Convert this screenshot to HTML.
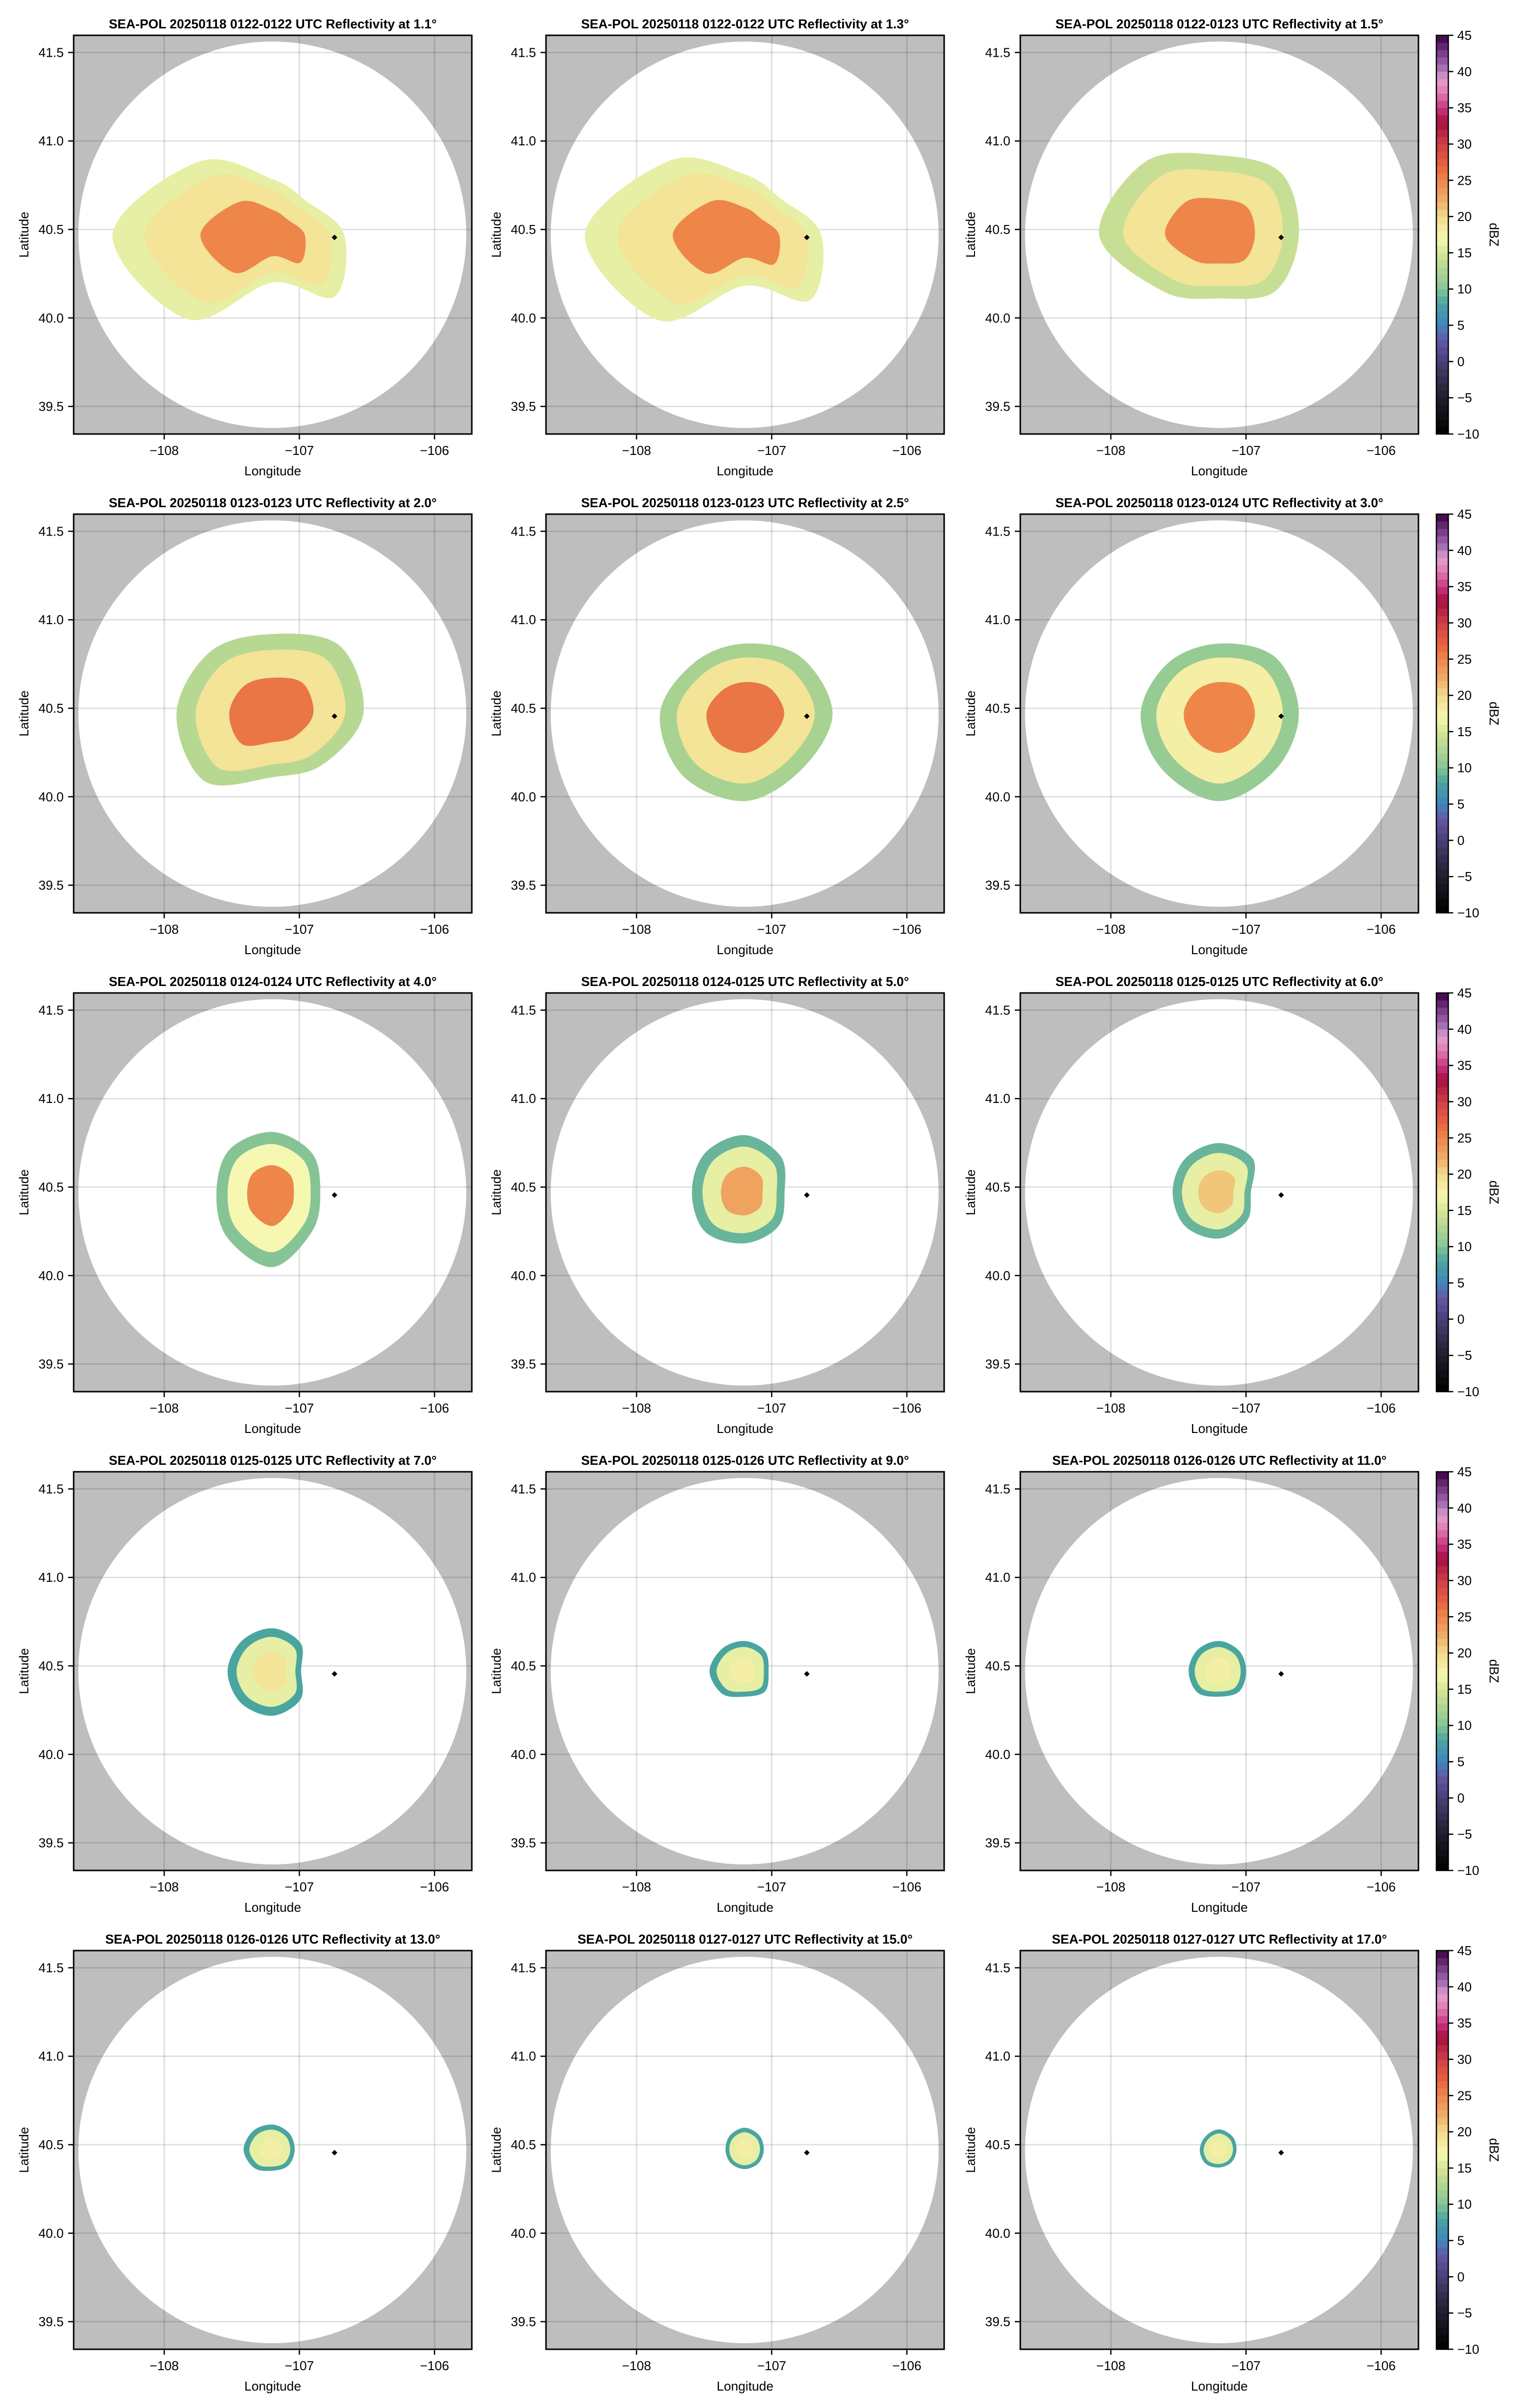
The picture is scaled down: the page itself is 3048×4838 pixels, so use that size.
<!DOCTYPE html>
<html><head><meta charset="utf-8"><style>
html,body{margin:0;padding:0;background:#fff;}
svg{display:block;font-family:"Liberation Sans",sans-serif;}
</style></head><body>
<svg id="fig" width="3048" height="4838" viewBox="0 0 3048 4838" xmlns="http://www.w3.org/2000/svg"></svg>
<script>
// ---- data ----
const elevations = [1.1,1.3,1.5,2.0,2.5,3.0,4.0,5.0,6.0,7.0,9.0,11.0,13.0,15.0,17.0];
const timeRanges = ["0122-0122","0122-0122","0122-0123","0123-0123","0123-0123","0123-0124","0124-0124","0124-0125","0125-0125","0125-0125","0125-0126","0126-0126","0126-0126","0127-0127","0127-0127"];
const lonTicks = [-108,-107,-106];
const latTicks = [39.5,40.0,40.5,41.0,41.5];
const cbTicks = [-10,-5,0,5,10,15,20,25,30,35,40,45];
// echo outer radius (km) at azimuths N,NE,E,SE,S,SW,W,NW
const azimuths = [0,45,90,135,180,225,270,315];
const echoRadii = [
 [35,30,45,55,30,75,100,65],
 [38,32,48,58,32,76,100,66],
 [50,55,50,50,40,50,75,65],
 [50,60,57,45,40,60,60,55],
 [44,50,55,50,55,55,53,45],
 [44,50,50,50,55,50,49,45],
 [38,35,30,35,47,40,35,38],
 [36,32,25,30,32,35,33,35],
 [31,30,20,25,29,30,29,30],
 [27,25,18,25,28,28,28,27],
 [19,18,15,18,16,20,22,20],
 [19,18,17,18,16,19,19,19],
 [16,15,14,14,13,16,18,17],
 [14,13,12,12,12,12,12,13],
 [13,12,11,11,11,12,12,12]
];
// layer dBZ values (edge, mid, core) per panel
const edgeDbz = [16,16,14,13,12,11,10,9,9,8,8,8,8,8,8];
const midDbz  = [19,19,19,19,19,18,17,16,16,16,16,16,16,16,16];
const coreDbz = [25,25,25,26,26,25,25,23,21,19,18,18,18,18,18];
const layerScale = [1,0.8,0.45];
const radarLon = -107.2, radarLat = 40.47, rangeKm = 121.4;
const markLon = -106.74, markLat = 40.455;
// colormap stops
const cmapVals = [-10,-5,0,3,5,8,10,12,15,17,20,22,25,27,30,33,35,37,39,40,42,45];
const cmapCols = ["#000000","#221c2c","#4a3f78","#6458a8","#3e86be","#4aa5a0","#86c496","#a7d292","#d6e596","#f6f8b2","#f2da8a","#efb26a","#ee864a","#e66440","#cf3f48","#a3103f","#c93683","#e07ab2","#e2a0cf","#b07cbd","#874b98","#3d0045"];

// ---- helpers ----
const NS="http://www.w3.org/2000/svg";
const svg=document.getElementById('fig');
function mk(tag,attrs,parent){const e=document.createElementNS(NS,tag);for(const k in attrs)e.setAttribute(k,attrs[k]);(parent||svg).appendChild(e);return e;}
function hex2rgb(h){return [parseInt(h.substr(1,2),16),parseInt(h.substr(3,2),16),parseInt(h.substr(5,2),16)];}
function cmap(v){
  if(v<=cmapVals[0])return cmapCols[0];
  for(let i=1;i<cmapVals.length;i++){
    if(v<=cmapVals[i]){const t=(v-cmapVals[i-1])/(cmapVals[i]-cmapVals[i-1]);
      const a=hex2rgb(cmapCols[i-1]),b=hex2rgb(cmapCols[i]);
      return `rgb(${Math.round(a[0]+(b[0]-a[0])*t)},${Math.round(a[1]+(b[1]-a[1])*t)},${Math.round(a[2]+(b[2]-a[2])*t)})`;}
  }
  return cmapCols[cmapCols.length-1];
}
const AX_W=800,AX_H=801;
const colX=[148,1097,2050], rowY=[71,1033,1995,2957,3919];
const LON0=-108.67,LON1=-105.724,LAT0=39.344,LAT1=41.597;

for(let p=0;p<15;p++){
  const ax=colX[p%3], ay=rowY[Math.floor(p/3)];
  const xs=lon=>ax+(lon-LON0)/(LON1-LON0)*AX_W;
  const ys=lat=>ay+(LAT1-lat)/(LAT1-LAT0)*AX_H;
  const g=mk('g',{});
  
  
  const cid='clip'+p;
  const cp=mk('clipPath',{id:cid},g);mk('rect',{x:ax,y:ay,width:AX_W,height:AX_H},cp);
  const bg=mk('rect',{x:ax,y:ay,width:AX_W,height:AX_H,fill:'#bebebe'},g);
  
  
  const cx=xs(radarLon), cy=ys(radarLat);
  const kmLat=1/111.2, kmLon=1/(111.2*Math.cos(radarLat*Math.PI/180));
  const rx=xs(radarLon+rangeKm*kmLon)-cx, ry=cy-ys(radarLat+rangeKm*kmLat);
  const circ=mk('ellipse',{cx:cx,cy:cy,rx:rx,ry:ry,fill:'#fff','clip-path':`url(#${cid})`},g);
  
  
  lonTicks.forEach(t=>{const l=mk('line',{x1:xs(t),x2:xs(t),y1:ay,y2:ay+AX_H,stroke:'rgba(0,0,0,0.12)','stroke-width':3},g);
    });
  latTicks.forEach(t=>{const l=mk('line',{x1:ax,x2:ax+AX_W,y1:ys(t),y2:ys(t),stroke:'rgba(0,0,0,0.12)','stroke-width':3},g);
    });
  const layerDbz=[edgeDbz[p],midDbz[p],coreDbz[p]];
  layerScale.forEach((s,li)=>{
    const pts=azimuths.map((az,i)=>{const r=echoRadii[p][i]*s;const a=az*Math.PI/180;
      return [xs(radarLon+r*Math.sin(a)*kmLon), ys(radarLat+r*Math.cos(a)*kmLat)];});
    const n=pts.length;let d=`M${pts[0][0]},${pts[0][1]}`;
    for(let i=0;i<n;i++){const p0=pts[(i-1+n)%n],p1=pts[i],p2=pts[(i+1)%n],p3=pts[(i+2)%n];
      d+=` C${p1[0]+(p2[0]-p0[0])/6},${p1[1]+(p2[1]-p0[1])/6} ${p2[0]-(p3[0]-p1[0])/6},${p2[1]-(p3[1]-p1[1])/6} ${p2[0]},${p2[1]}`;}
    const e=mk('path',{d:d+'Z',fill:cmap(layerDbz[li])},g);
    
    
  });
  const mkr=mk('rect',{x:xs(markLon)-4,y:ys(markLat)-4,width:8,height:8,fill:'#000',transform:`rotate(45 ${xs(markLon)} ${ys(markLat)})`},g);
  
  const fr=mk('rect',{x:ax,y:ay,width:AX_W,height:AX_H,fill:'none',stroke:'#000','stroke-width':3},g);
  
  lonTicks.forEach(t=>{mk('line',{x1:xs(t),x2:xs(t),y1:ay+AX_H,y2:ay+AX_H+11,stroke:'#000','stroke-width':2.5},g);
    const tx=mk('text',{x:xs(t),y:ay+AX_H+42,'font-size':26,'text-anchor':'middle'},g);tx.textContent='\u2212'+Math.abs(t);
    });
  latTicks.forEach(t=>{mk('line',{x1:ax-11,x2:ax,y1:ys(t),y2:ys(t),stroke:'#000','stroke-width':2.5},g);
    const tx=mk('text',{x:ax-20,y:ys(t)+9,'font-size':26,'text-anchor':'end'},g);tx.textContent=t.toFixed(1);
    });
  const xl=mk('text',{x:ax+AX_W/2,y:ay+AX_H+83,'font-size':26,'text-anchor':'middle'},g);xl.textContent='Longitude';
  
  const yl=mk('text',{x:0,y:0,'font-size':26,'text-anchor':'middle',transform:`translate(${ax-91},${ay+AX_H/2}) rotate(-90)`},g);yl.textContent='Latitude';
  
  const tt=mk('text',{x:ax+AX_W/2,y:ay-14,'font-size':26,'font-weight':'bold','text-anchor':'middle'},g);
  tt.textContent=`SEA-POL 20250118 ${timeRanges[p]} UTC Reflectivity at ${elevations[p].toFixed(1)}\u00b0`;
  
}
rowY.forEach((ay,ri)=>{
  const g=mk('g',{});
  
  
  const x0=2886,w=24,vmin=-10,vmax=45;
  const yv=v=>ay+AX_H-(v-vmin)/(vmax-vmin)*AX_H;
  for(let v=vmin;v<vmax;v++){mk('rect',{x:x0,y:yv(v+1),width:w,height:yv(v)-yv(v+1)+0.6,fill:cmap(v+0.5)},g);}
  mk('rect',{x:x0,y:ay,width:w,height:AX_H,fill:'none',stroke:'#000','stroke-width':2.5},g);
  cbTicks.forEach(t=>{mk('line',{x1:x0+w,x2:x0+w+10,y1:yv(t),y2:yv(t),stroke:'#000','stroke-width':2.5},g);
    const tx=mk('text',{x:2928,y:yv(t)+9,'font-size':26},g);tx.textContent=t<0?'\u2212'+Math.abs(t):String(t);
    });
  const lb=mk('text',{x:0,y:0,'font-size':26,'text-anchor':'middle',transform:`translate(2993,${ay+AX_H/2}) rotate(90)`},g);lb.textContent='dBZ';
  
});
</script>
</body></html>
